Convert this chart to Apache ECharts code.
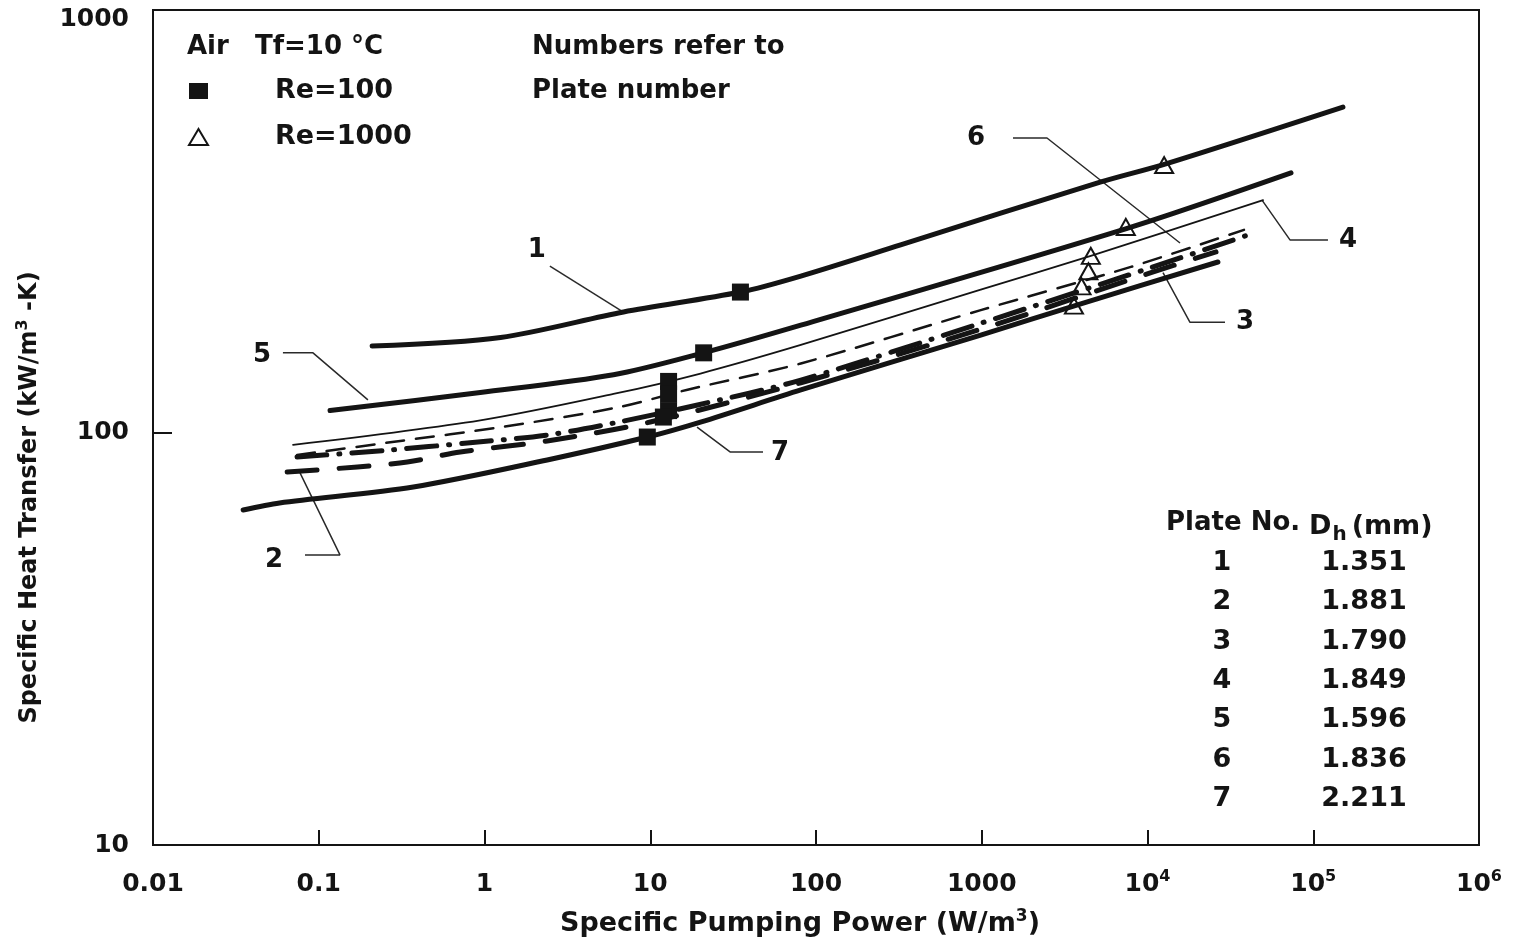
<!DOCTYPE html>
<html><head><meta charset="utf-8">
<script src="https://cdn.jsdelivr.net/npm/echarts@6/dist/echarts.min.js"></script>
<style>html,body{margin:0;padding:0;background:#fff}#c{width:1516px;height:948px}</style>
</head><body><div id="c"></div>
<script>
// ---- data (x: specific pumping power W/m3, y: specific heat transfer kW/m3-K) ----
const plate1 = [[0.21,162],[1.25,170],[6.9,196],[35,219],[81,239.5],[324,285],[5240,405],[12900,448],[151000,615]];
const plate5 = [[0.117,113],[0.943,125],[6.0,138],[21,156],[81,182],[7620,313],[73400,426]];
const plate4 = [[0.070,93.3],[0.943,107],[6.0,124],[20.1,139],[81,163],[986,222],[4550,268],[49800,366]];
const plate6 = [[0.074,88.2],[0.31,95.4],[1.25,103],[6.34,115],[16.8,127],[81,147],[986,198],[7940,252],[38200,310]];
const plate3 = [[0.074,87.2],[0.27,90.7],[0.787,94.3],[2.39,98.6],[6.0,105.4],[19.3,116.6],[81,134],[986,184],[10500,251],[39300,300]];
const plate2 = [[0.0645,80.2],[0.171,82.5],[0.342,84.8],[0.714,89.7],[2.39,95.4],[10,106],[81,132],[986,178],[10500,244],[25900,274]];
const plate7 = [[0.035,64.9],[0.058,67.5],[0.372,73.8],[2.39,85.8],[9.6,97.5],[20.1,106],[81,126.8],[986,172.3],[3960,205],[26600,259]];

const re100Points = [[35,219],[21,156],[9.6,97.5],[12.9,133],[12.9,124],[12.9,113],[12.0,109]];
const re1000Points = [[12600,445],[7400,315],[4550,268],[4400,246],[4000,226],[3600,203]];

const plateNos = ['1','2','3','4','5','6','7'];
const hydraulicDiameters = ['1.351','1.881','1.790','1.849','1.596','1.836','2.211'];

// curve labels with leader lines (data coordinates)
const curveLabelNames = ['1','5','2','7','6','4','3'];
const curveLabelPos = [[2.07,277],[0.0455,154],[0.0537,49.1],[60.6,89.2],[923,517.5],[162100,293],[38750,185]];
const leaderPaths = [
  [[2.48,253],[6.85,196]],
  [[0.0608,156],[0.0923,156],[0.198,120]],
  [[0.0826,50.5],[0.1343,50.5],[0.0771,79.8]],
  [[47.9,89.7],[30.3,89.7],[19.15,103]],
  [[1543,517.5],[2475,517.5],[15710,288]],
  [[122700,293],[72370,293],[49080,366]],
  [[29350,185],[18050,185],[12400,244]]
];

const FONT = '"DejaVu Sans", sans-serif';
const INK = '#141414';

const curves = [
  {name:'1', data:plate1, width:5, type:'solid'},
  {name:'5', data:plate5, width:5, type:'solid'},
  {name:'4', data:plate4, width:1.8, type:'solid'},
  {name:'6', data:plate6, width:2.5, type:[18,12]},
  {name:'3', data:plate3, width:5, type:[30,12,1,12]},
  {name:'2', data:plate2, width:5, type:[30,22]},
  {name:'7', data:plate7, width:5, type:'solid'}
];

const series = [];
curves.forEach(c => {
  series.push({
    name:'Plate ' + c.name, type:'line', data:c.data, smooth:0.3, symbol:'none', silent:true, z:2,
    lineStyle:{color:INK, width:c.width, type:c.type, cap:'round', join:'round'}
  });
});
leaderPaths.forEach((p,i) => {
  series.push({
    name:'leader'+i, type:'line', data:p, symbol:'none', silent:true, z:1,
    lineStyle:{color:'#2a2a2a', width:1.5}
  });
});
series.push({
  name:'labels', type:'scatter', symbolSize:1, silent:true, z:6,
  itemStyle:{color:'rgba(0,0,0,0)', opacity:1},
  data: curveLabelPos.map((p,i)=>({name:curveLabelNames[i], value:p})),
  label:{show:true, position:'inside', formatter:'{b}', fontFamily:FONT, fontWeight:'bold', fontSize:26, color:INK}
});
series.push({
  name:'Re=100', type:'scatter', data:re100Points, symbol:'rect', symbolSize:17, z:5,
  itemStyle:{color:INK, opacity:1}
});
series.push({
  name:'Re=1000', type:'scatter', data:re1000Points, symbol:'triangle', symbolSize:[18,16], z:5,
  itemStyle:{color:'rgba(255,255,255,0)', borderColor:INK, borderWidth:2, opacity:1}
});

const txt = (text, x, y, size, align) => ({
  type:'text', x:x, y:y, silent:true,
  style:{text:text, font:'bold ' + (size||26) + 'px ' + FONT, fill:INK, align:align||'left', verticalAlign:'middle'}
});

const graphics = [
  txt('Air', 187, 47, 26),
  txt('Tf=10 °C', 255, 47, 26),
  txt('Numbers refer to', 532, 47, 26),
  txt('Plate number', 532, 91, 26),
  txt('Plate No.', 1166, 523, 26),
  {type:'text', x:1309, y:527, silent:true, style:{
    text:'{d|D}{h|h}{d|(mm)}', align:'left', verticalAlign:'middle', fill:INK,
    rich:{
      d:{fontFamily:FONT, fontWeight:'bold', fontSize:27, lineHeight:30, fill:INK, color:INK},
      h:{fontFamily:FONT, fontWeight:'bold', fontSize:20, lineHeight:20, padding:[15,5,0,1], fill:INK, color:INK}
    }}}
];
plateNos.forEach((n,i) => {
  graphics.push(txt(n, 1222, 563 + i*39.3, 27, 'center'));
  graphics.push(txt(hydraulicDiameters[i], 1364, 563 + i*39.3, 27, 'center'));
});

const baseTxt = {fontFamily:FONT, fontWeight:'bold', fontSize:25, color:INK, lineHeight:30};
const supTxt = {fontFamily:FONT, fontWeight:'bold', fontSize:16, color:INK, lineHeight:16, verticalAlign:'top'};
const xTitleTxt = {fontFamily:FONT, fontWeight:'bold', fontSize:27, color:INK, lineHeight:32};
const xTitleSup = {fontFamily:FONT, fontWeight:'bold', fontSize:17, color:INK, lineHeight:17, verticalAlign:'top'};
const yTitleTxt = {fontFamily:FONT, fontWeight:'bold', fontSize:24, color:INK, lineHeight:30};
const yTitleSup = {fontFamily:FONT, fontWeight:'bold', fontSize:16, color:INK, lineHeight:16, verticalAlign:'top'};

const chart = echarts.init(document.getElementById('c'), null, {renderer:'canvas'});
chart.setOption({
  backgroundColor:'#ffffff',
  animation:false,
  grid:{left:153, right:37, top:10, bottom:103, show:true, borderColor:INK, borderWidth:2, backgroundColor:'rgba(0,0,0,0)'},
  legend:{
    data:['Re=100','Re=1000'], orient:'vertical', left:183, top:71, itemWidth:19, itemHeight:16, itemGap:16,
    selectedMode:false,
    textStyle:{fontFamily:FONT, fontWeight:'bold', fontSize:27, color:INK, lineHeight:30, padding:[0,0,0,62]}
  },
  xAxis:{
    type:'log', logBase:10, min:0.01, max:1e6,
    axisLine:{show:true, lineStyle:{color:INK, width:2}},
    axisTick:{show:true, inside:true, length:15, lineStyle:{color:INK, width:2}},
    minorTick:{show:false}, splitLine:{show:false},
    axisLabel:{
      margin:24, color:INK, fontFamily:FONT, fontWeight:'bold', fontSize:25,
      formatter:function(v){
        const e = Math.round(Math.log10(v));
        if (e <= 3) return '{b|' + (e < 0 ? Math.pow(10,e).toFixed(-e) : String(Math.pow(10,e))) + '}';
        return '{b|10}{s|' + e + '}';
      },
      rich:{b:baseTxt, s:supTxt}
    },
    name:'{a|Specific Pumping Power (W/m}{s|3}{a|)}', nameLocation:'middle', nameGap:63,
    nameTextStyle:{padding:[0,32,0,0], rich:{a:xTitleTxt, s:xTitleSup}}
  },
  yAxis:{
    type:'log', logBase:10, min:10, max:1057.4,
    axisLine:{show:true, lineStyle:{color:INK, width:2}},
    axisTick:{show:true, inside:true, length:19, lineStyle:{color:INK, width:2}, customValues:[100]},
    minorTick:{show:false}, splitLine:{show:false},
    axisLabel:{
      margin:24, color:INK, fontFamily:FONT, fontWeight:'bold', fontSize:25,
      formatter:function(v){
        const l = Math.log10(v);
        return Math.abs(l - Math.round(l)) < 1e-6 ? String(Math.round(v)) : '';
      }
    },
    name:'{a|Specific Heat Transfer (kW/m}{s|3}{a| -K)}', nameLocation:'middle', nameGap:108,
    nameTextStyle:{padding:[0,140,0,0], rich:{a:yTitleTxt, s:yTitleSup}}
  },
  graphic:graphics,
  series:series
});
</script></body></html>
